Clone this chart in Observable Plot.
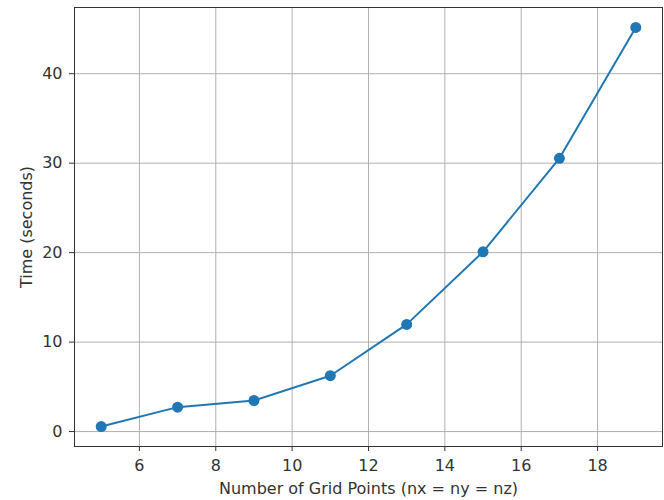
<!DOCTYPE html>
<html>
<head>
<meta charset="utf-8">
<script src="https://cdn.jsdelivr.net/npm/d3@7"></script>
<script src="https://cdn.jsdelivr.net/npm/@observablehq/plot@0.6"></script>
<style>
  html, body { margin: 0; padding: 0; background: #fff; }
  #chart svg { display: block; }
</style>
</head>
<body>
<div id="chart"></div>
<script>
const gridPoints = [5, 7, 9, 11, 13, 15, 17, 19];
const timeSeconds = [0.56, 2.73, 3.47, 6.24, 11.98, 20.09, 30.54, 45.17];
const xTicks = [6, 8, 10, 12, 14, 16, 18];
const yTicks = [0, 10, 20, 30, 40];

const data = gridPoints.map((n, i) => ({n, t: timeSeconds[i]}));

function pad(ext) {
  const m = (ext[1] - ext[0]) * 0.05;
  return [ext[0] - m, ext[1] + m];
}

const chart = Plot.plot({
  width: 664,
  height: 500,
  marginLeft: 74,
  marginRight: 2,
  marginTop: 7,
  marginBottom: 54,
  style: {fontFamily: "DejaVu Sans", fontSize: "16px", color: "#333", background: "#fff"},
  x: {domain: pad(d3.extent(gridPoints))},
  y: {domain: pad(d3.extent(timeSeconds))},
  marks: [
    Plot.gridX(xTicks, {stroke: "#b0b0b0", strokeOpacity: 1, strokeWidth: 1}),
    Plot.gridY(yTicks, {stroke: "#b0b0b0", strokeOpacity: 1, strokeWidth: 1}),
    Plot.axisX(xTicks, {
      tickSize: 5, tickPadding: 8, fill: "#333", stroke: "#333",
      label: "Number of Grid Points (nx = ny = nz)", labelAnchor: "center",
      labelArrow: "none", labelOffset: 47, fontSize: 16
    }),
    Plot.axisY(yTicks, {
      tickSize: 5, tickPadding: 7, fill: "#333", stroke: "#333",
      label: "Time (seconds)", labelAnchor: "center",
      labelArrow: "none", labelOffset: 54, fontSize: 16
    }),
    Plot.line(data, {x: "n", y: "t", stroke: "#1f77b4", strokeWidth: 2}),
    Plot.dot(data, {x: "n", y: "t", fill: "#1f77b4", r: 5.5}),
    Plot.frame({stroke: "#333", strokeWidth: 1})
  ]
});

document.getElementById("chart").appendChild(chart);
</script>
</body>
</html>
